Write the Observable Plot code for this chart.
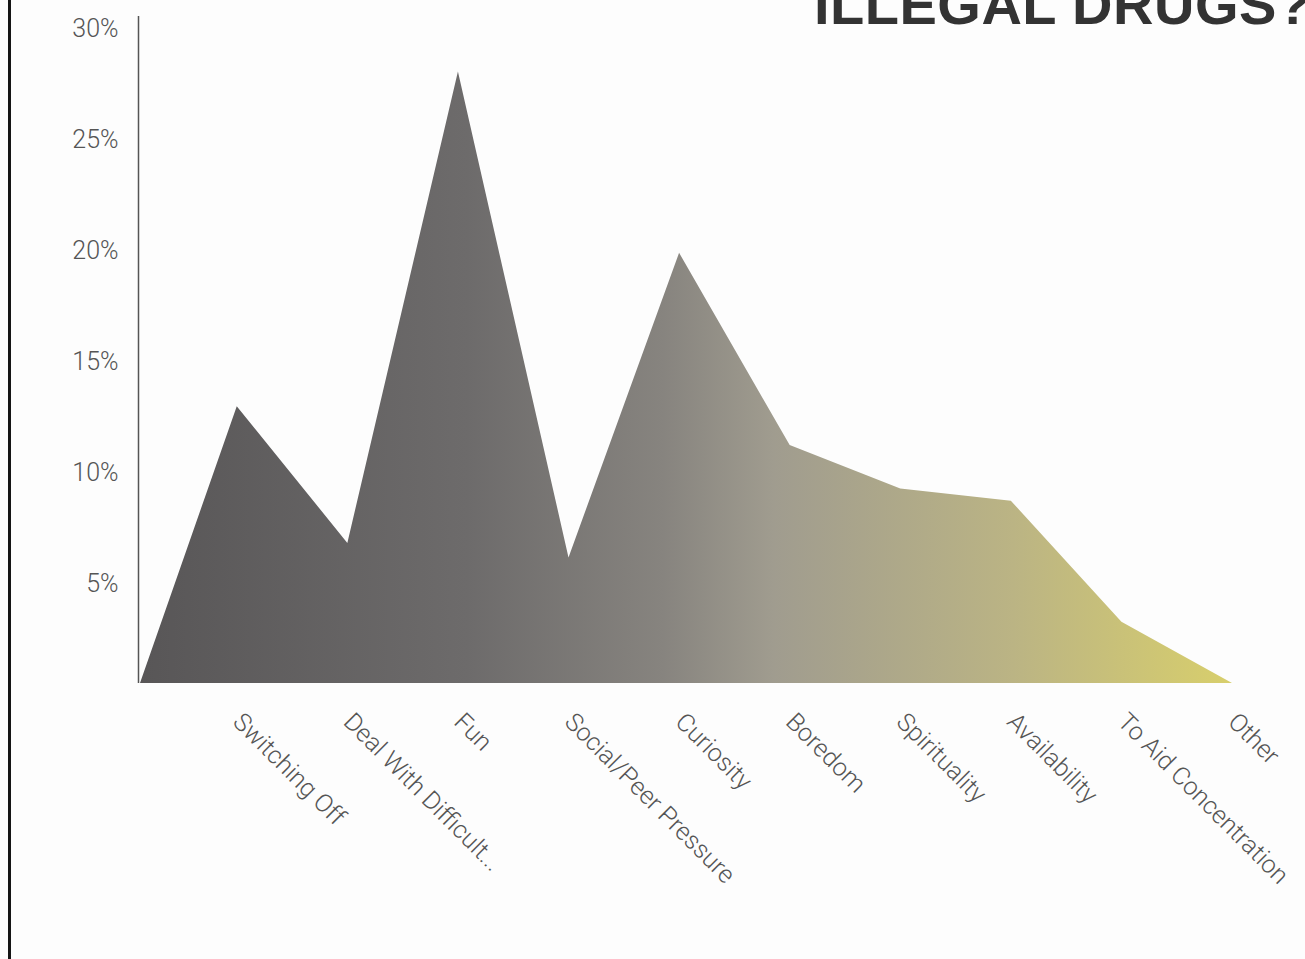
<!DOCTYPE html>
<html>
<head>
<meta charset="utf-8">
<script src="https://cdn.jsdelivr.net/npm/d3@7"></script>
<script src="https://cdn.jsdelivr.net/npm/@observablehq/plot@0.6"></script>
<style>
  html, body { margin: 0; padding: 0; background: #fdfdfd; }
  #wrap { position: relative; width: 1305px; height: 959px; overflow: hidden; background: #fdfdfd; }
  #edge { position: absolute; left: 8px; top: 0; width: 3px; height: 959px; background: #151515; }
  #title { position: absolute; left: 814px; top: -23px; white-space: nowrap;
           font: bold 56px "Liberation Sans", Arial, sans-serif; line-height: 56px;
           color: #333; letter-spacing: 0.5px; }
  #chart { position: absolute; left: 0; top: 0; }
</style>
</head>
<body>
<div id="wrap">
  <div id="edge"></div>
  <div id="chart"></div>
  <div id="title">ILLEGAL DRUGS?</div>
</div>
<script>
// ---- data ----
const categories = ["Switching Off", "Deal With Difficult...", "Fun", "Social/Peer Pressure", "Curiosity",
                    "Boredom", "Spirituality", "Availability", "To Aid Concentration", "Other"];
const values = [12.45, 6.3, 27.5, 5.65, 19.35, 10.7, 8.75, 8.2, 2.75, 0];
const yTicks = [5, 10, 15, 20, 25, 30];
const originIndex = 0.125;   // the area starts from 0 at the y axis, slightly before the first category
const yMax = 30;

// ---- styles ----
const gradientStops = [
  {offset: "0%",   color: "#585657"},
  {offset: "30%",  color: "#6d6b6b"},
  {offset: "48%",  color: "#87847f"},
  {offset: "58%",  color: "#a09c8f"},
  {offset: "80%",  color: "#bbb484"},
  {offset: "100%", color: "#d8cf6c"}
];

const data = [{i: originIndex, v: 0}, ...categories.map((c, k) => ({i: k + 1, v: values[k]}))];

const gradientDefs = () => {
  const defs = d3.create("svg:defs");
  const g = defs.append("linearGradient").attr("id", "drugGrad")
    .attr("x1", "0").attr("x2", "1").attr("y1", "0").attr("y2", "0");
  gradientStops.forEach(s => g.append("stop").attr("offset", s.offset).attr("stop-color", s.color));
  return defs.node();
};

const chart = Plot.plot({
  width: 1305,
  height: 959,
  marginLeft: 140,
  marginRight: 73,
  marginTop: 16,
  marginBottom: 276,
  style: {background: "transparent", fontFamily: "Roboto, 'Noto Sans', sans-serif", overflow: "visible"},
  x: {domain: [originIndex, categories.length], axis: null},
  y: {domain: [0, yMax], axis: null},
  marks: [
    gradientDefs,
    Plot.areaY(data, {x: "i", y: "v", fill: "url(#drugGrad)"}),
    Plot.ruleX([originIndex], {y1: 0, y2: yMax, stroke: "#555", strokeWidth: 1.5, dx: -2}),
    Plot.axisY({ticks: yTicks, tickSize: 0, tickPadding: 22, tickFormat: d => d + "%", label: null,
                dy: 12, fontSize: 25, fontWeight: 300, fill: "#555", letterSpacing: "1px"}),
    Plot.axisX({ticks: d3.range(1, categories.length + 1), tickFormat: i => categories[i - 1], label: null,
                tickRotate: 45, tickSize: 0, tickPadding: 34, fontSize: 25, fontWeight: 300,
                fill: "#555", textAnchor: "start", letterSpacing: "0.6px"})
  ]
});
document.getElementById("chart").append(chart);
</script>
</body>
</html>
